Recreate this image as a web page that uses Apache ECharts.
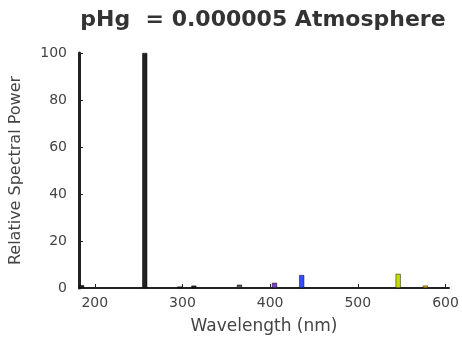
<!DOCTYPE html>
<html>
<head>
<meta charset="utf-8">
<script src="https://cdn.jsdelivr.net/npm/echarts@6/dist/echarts.min.js"></script>
<style>
html,body{margin:0;padding:0;background:#fff;}
#main{width:462px;height:340px;}
</style>
</head>
<body>
<div id="main"></div>
<script>
// emission lines of the mercury lamp (nm) and their relative power
var wavelengths = [185, 257, 297, 313, 365, 405, 436, 546, 577];
var powers      = [1.2, 100, 0.6, 1.0, 1.4, 2.2, 5.5, 6.0, 1.0];
var lineColors  = ['#222', '#222', '#222', '#222', '#555', '#7a3fd0', '#3050ff', '#c8e000', '#f0c000'];
var xTicks = [200, 300, 400, 500, 600];

var chart = echarts.init(document.getElementById('main'));
var barData = [];
for (var i = 0; i < wavelengths.length; i++) {
	barData.push({value: [wavelengths[i], powers[i]], itemStyle: {color: lineColors[i]}});
}
var font = 'DejaVu Sans';
var option = {
	animation: false,
	title: {
		text: 'pHg  = 0.000005 Atmosphere',
		left: 258,
		textAlign: 'center',
		top: 4,
		textStyle: {fontFamily: font, fontSize: 22, fontWeight: 'bold', color: '#333'}
	},
	grid: {left: 77, right: 13, top: 53, bottom: 52},
	xAxis: {
		type: 'value',
		min: 182,
		max: 604,
		name: 'Wavelength (nm)',
		nameLocation: 'middle',
		nameGap: 30,
		nameTextStyle: {fontFamily: font, fontSize: 17, color: '#444'},
		axisLine: {lineStyle: {color: '#222', width: 2}},
		axisTick: {inside: true, length: 4, customValues: xTicks, lineStyle: {color: '#222'}},
		axisLabel: {customValues: xTicks, fontFamily: font, fontSize: 14, color: '#444', margin: 8},
		splitLine: {show: false}
	},
	yAxis: {
		type: 'value',
		min: 0,
		max: 100,
		interval: 20,
		name: 'Relative Spectral Power',
		nameLocation: 'middle',
		nameGap: 55,
		nameTextStyle: {fontFamily: font, fontSize: 16, color: '#444'},
		axisLine: {show: true, lineStyle: {color: '#222', width: 3}},
		axisTick: {show: true, inside: true, length: 4, lineStyle: {color: '#222'}},
		axisLabel: {fontFamily: font, fontSize: 14, color: '#444', margin: 12},
		splitLine: {show: false}
	},
	series: [{
		type: 'bar',
		data: barData,
		barWidth: 5,
		itemStyle: {borderColor: '#000', borderWidth: 0.5}
	}]
};
chart.setOption(option);
</script>
</body>
</html>
